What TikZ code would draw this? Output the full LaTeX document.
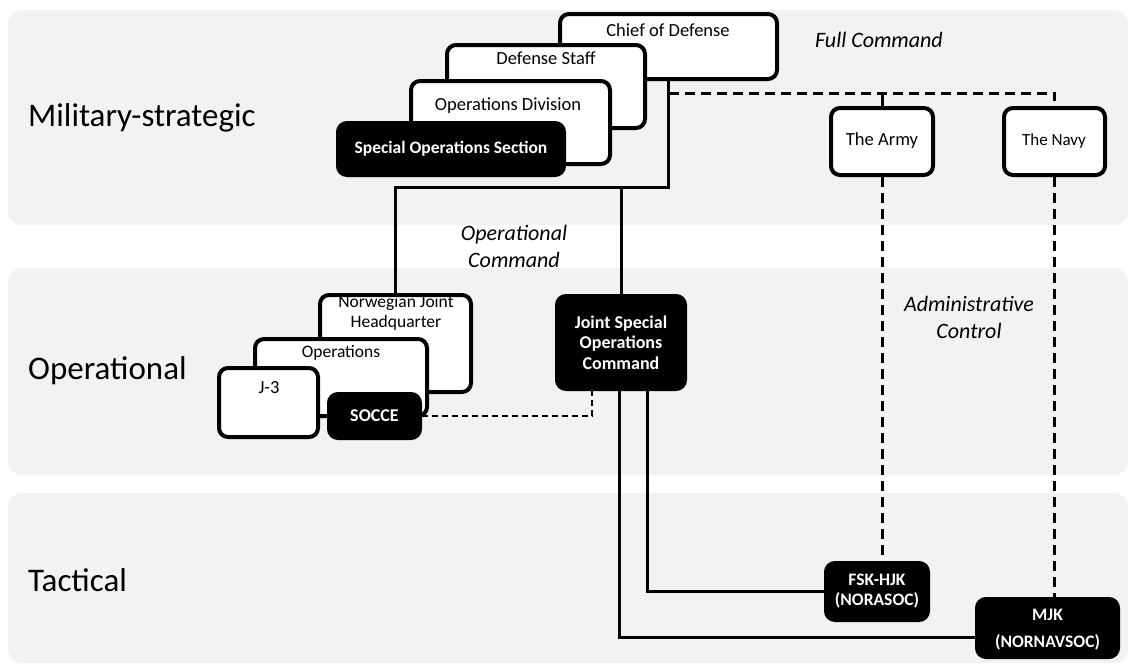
\documentclass[tikz,border=0pt]{standalone}
\usepackage{fontspec}
\setmainfont{Carlito}
\definecolor{bandgray}{HTML}{F2F2F2}
\begin{document}
\begin{tikzpicture}[x=1pt,y=-1pt,
  band/.style={fill=bandgray, rounded corners=14pt},
  wbox/.style={draw=black, fill=white, line width=4pt, rounded corners=9pt, inner sep=0pt},
  bbox/.style={draw=black, fill=black, line width=4pt, rounded corners=9pt, inner sep=0pt,
     text=white, align=center, font=\bfseries\fontsize{18}{20.5}\selectfont},
  btxt/.style={inner sep=0pt, align=center, font=\fontsize{18.5}{20}\selectfont},
  lvl/.style={inner sep=0pt, anchor=west, font=\fontsize{33}{38}\selectfont},
  ital/.style={inner sep=0pt, align=center, font=\itshape\fontsize{22}{27}\selectfont},
  cline/.style={line width=3pt},
  dline/.style={line width=3pt, dash pattern=on 10pt off 6pt},
  sdline/.style={line width=2.2pt, dash pattern=on 6pt off 4pt}]
\useasboundingbox (0,0) rectangle (1130,667);
% bands
\fill[band] (8,10) rectangle (1128,225);
\fill[band] (8,268) rectangle (1128,475);
\fill[band] (8,493) rectangle (1128,663);
% level labels
\node[lvl] (lms) at (28,118) {Military-strategic};
\node[lvl] (lop) at (28,371) {Operational};
\node[lvl] (ltac) at (28,580) {Tactical};
% strategic stack
\node[wbox, minimum width=217, minimum height=65] (cod) at (668.5,46.5) {};
\node[btxt] (codt) at (668,30) {Chief of Defense};
\node[wbox, minimum width=198, minimum height=83] (ds) at (546,86.5) {};
\node[btxt] (dst) at (546,58) {Defense Staff};
\node[wbox, minimum width=199, minimum height=83] (opd) at (510.5,122.5) {};
\node[btxt] (opdt) at (508,106) {Operations Division};
\node[bbox, minimum width=226, minimum height=52, font=\bfseries\fontsize{17.5}{20}\selectfont] (sos) at (451,149) {Special Operations Section};
% services
\node[wbox, minimum width=102, minimum height=67] (army) at (882,141.5) {};
\node[btxt] (armyt) at (882,141) {The Army};
\node[wbox, minimum width=101, minimum height=67] (navy) at (1054.5,141.5) {};
\node[btxt, font=\fontsize{17}{20}\selectfont] (navyt) at (1054,141) {The Navy};
% operational stack
\node[wbox, minimum width=151, minimum height=97] (njhq) at (395.5,343.5) {};
\node[btxt, font=\fontsize{17.5}{20}\selectfont] (njhqt) at (396,313) {Norwegian Joint\\Headquarter};
\node[wbox, minimum width=172, minimum height=77] (ops) at (341,377.5) {};
\node[btxt, font=\fontsize{17.5}{20}\selectfont] (opst) at (341,353) {Operations};
\node[wbox, minimum width=99, minimum height=69] (j3) at (268.5,402.5) {};
\node[btxt] (j3t) at (269,388) {J-3};
\node[bbox, minimum width=91, minimum height=44] (socce) at (374.5,416) {SOCCE};
\node[bbox, minimum width=128, minimum height=93] (jsoc) at (621,342.5) {Joint Special\\Operations\\Command};
% tactical
\node[bbox, minimum width=102, minimum height=57, font=\bfseries\fontsize{17.5}{20}\selectfont] (fsk) at (877,591.5) {FSK-HJK\\(NORASOC)};
\node[bbox, minimum width=141, minimum height=58] (mjk) at (1047.5,628) {};
\node[inner sep=0pt, text=white, align=center, font=\bfseries\fontsize{17.5}{27}\selectfont] (mjkt) at (1047.5,630) {MJK\\(NORNAVSOC)};
% italic labels
\node[ital] (fullc) at (879,40) {Full Command};
\node[ital] (opc) at (514,246) {Operational\\Command};
\node[ital] (admc) at (969,317) {Administrative\\Control};
% connectors
\coordinate (bus) at (0,187);
\coordinate (dbus) at (0,93);
\draw[cline] (cod.south) -- (cod.south |- bus) -- (njhq.north |- bus) -- (njhq.north);
\draw[cline] (jsoc.north |- bus) -- (jsoc.north);
\draw[dline] (cod.south |- dbus) -- (navy.north |- dbus) -- (navy.north);
\draw[cline] (army.north |- dbus) -- (army.north);
\draw[dline] (army.south) -- (army.south |- fsk.north);
\draw[dline] (navy.south) -- (navy.south |- mjk.north);
\coordinate (sd) at (592,0);
\draw[sdline] (socce.east) -| (jsoc.south -| sd);
\coordinate (l1) at (619,0);
\coordinate (l2) at (647,0);
\coordinate (l1y) at (0,637);
\draw[cline] (jsoc.south -| l2) |- (fsk.west);
\draw[cline] (jsoc.south -| l1) |- (mjk.west |- l1y);
\end{tikzpicture}
\end{document}
